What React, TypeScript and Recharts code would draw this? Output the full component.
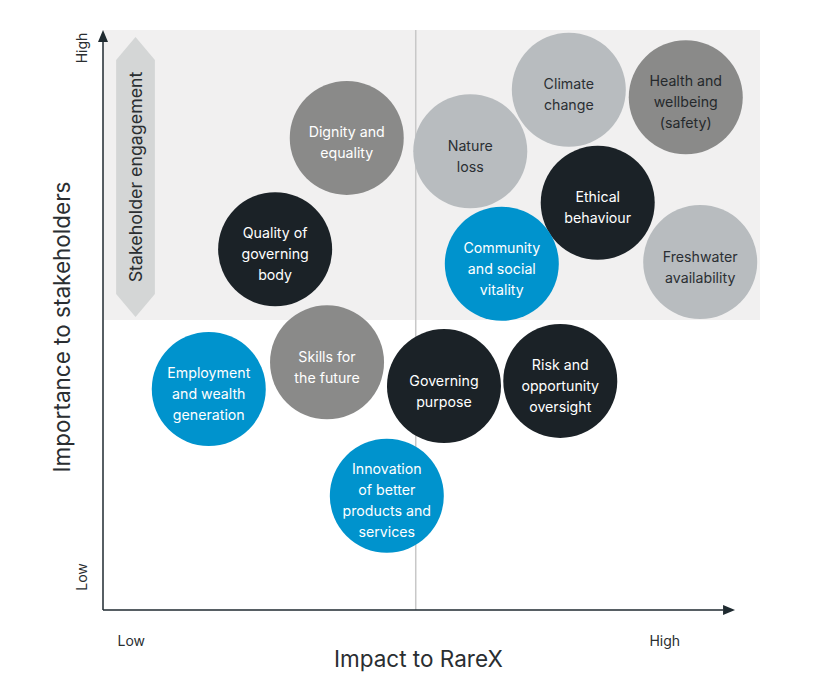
import React from 'react';
import { ScatterChart, Scatter, XAxis, YAxis, ReferenceArea, ReferenceLine } from 'recharts';

// ---------- data ----------
const topics = [
  'Climate change',
  'Health and wellbeing (safety)',
  'Dignity and equality',
  'Nature loss',
  'Ethical behaviour',
  'Quality of governing body',
  'Community and social vitality',
  'Freshwater availability',
  'Employment and wealth generation',
  'Skills for the future',
  'Governing purpose',
  'Risk and opportunity oversight',
  'Innovation of better products and services',
];
const labelLines = [
  ['Climate', 'change'],
  ['Health and', 'wellbeing', '(safety)'],
  ['Dignity and', 'equality'],
  ['Nature', 'loss'],
  ['Ethical', 'behaviour'],
  ['Quality of', 'governing', 'body'],
  ['Community', 'and social', 'vitality'],
  ['Freshwater', 'availability'],
  ['Employment', 'and wealth', 'generation'],
  ['Skills for', 'the future'],
  ['Governing', 'purpose'],
  ['Risk and', 'opportunity', 'oversight'],
  ['Innovation', 'of better', 'products and', 'services'],
];
const impact = [70.9, 88.7, 37.1, 55.9, 75.3, 26.2, 60.7, 90.9, 16.1, 34.1, 51.9, 69.6, 43.2];
const importance = [89.7, 88.4, 81.4, 79.1, 70.2, 62.2, 59.7, 60.0, 38.1, 42.7, 38.6, 39.5, 19.7];
const groups = ['light', 'greyDarkText', 'grey', 'light', 'dark', 'dark', 'blue', 'light', 'blue', 'grey', 'dark', 'dark', 'blue'];

const xTickValues = [4.3, 85.5];
const xTickLabels = ['Low', 'High'];
const yTickValues = [5.7, 96.9];
const yTickLabels = ['Low', 'High'];
const xTitle = 'Impact to RareX';
const yTitle = 'Importance to stakeholders';
const bandTitle = 'Stakeholder engagement';
const impactDivider = 47.6;
const importanceDivider = 50;
const bandX = [2.0, 7.9];
const bandY = [50.5, 98.8];
const xAxisEnd = 96.2;

const data = topics.map((t, i) => ({
  name: t,
  lines: labelLines[i],
  x: impact[i],
  y: importance[i],
  group: groups[i],
}));

// ---------- styles ----------
const FONT = 'Inter, "Open Sans", sans-serif';
const GROUP_STYLE: Record<string, { fill: string; text: string }> = {
  light: { fill: '#b8bcbf', text: '#2b2f33' },
  grey: { fill: '#8a8a89', text: '#ffffff' },
  greyDarkText: { fill: '#8a8a89', text: '#25292c' },
  dark: { fill: '#1b2227', text: '#ffffff' },
  blue: { fill: '#0093cd', text: '#ffffff' },
};
const AXIS_COLOR = '#1f2a30';
const TEXT_COLOR = '#2a2e31';
const RADIUS = 57;
const LINE_H = 21;

const Bubble = (props: any) => {
  const { cx, cy, payload } = props;
  if (cx == null || cy == null) return null;
  const st = GROUP_STYLE[payload.group];
  const lines: string[] = payload.lines;
  const start = cy + 4.5 - ((lines.length - 1) * LINE_H) / 2;
  return (
    <g>
      <circle cx={cx} cy={cy} r={RADIUS} fill={st.fill} />
      {lines.map((l, i) => (
        <text
          key={i}
          x={cx}
          y={start + i * LINE_H}
          textAnchor="middle"
          dominantBaseline="central"
          fontFamily={FONT}
          fontSize={14.2}
          fill={st.text}
        >
          {l}
        </text>
      ))}
    </g>
  );
};

const ArrowLine = (props: any) => {
  const { x1, y1, x2, y2 } = props;
  const ang = Math.atan2(y2 - y1, x2 - x1);
  const len = 12;
  const half = 5;
  const bx = x2 - len * Math.cos(ang);
  const by = y2 - len * Math.sin(ang);
  const px = -Math.sin(ang) * half;
  const py = Math.cos(ang) * half;
  return (
    <g>
      <line x1={x1} y1={y1} x2={bx} y2={by} stroke={AXIS_COLOR} strokeWidth={1.5} />
      <polygon points={`${x2},${y2} ${bx + px},${by + py} ${bx - px},${by - py}`} fill={AXIS_COLOR} />
    </g>
  );
};

const Hexagon = (props: any) => {
  const { x, y, width, height } = props;
  const tip = 23;
  const cx = x + width / 2;
  const ty = y + 140;
  const pts = [
    [cx, y],
    [x + width, y + tip],
    [x + width, y + height - tip],
    [cx, y + height],
    [x, y + height - tip],
    [x, y + tip],
  ]
    .map((p) => p.join(','))
    .join(' ');
  return (
    <g>
      <polygon points={pts} fill="#d4d6d6" />
      <text
        x={cx}
        y={ty}
        transform={`rotate(-90, ${cx}, ${ty})`}
        textAnchor="middle"
        dominantBaseline="central"
        fontFamily={FONT}
        fontSize={17.8}
        fill={TEXT_COLOR}
      >
        {bandTitle}
      </text>
    </g>
  );
};

const XTick = (props: any) => {
  const { x, y, payload } = props;
  const idx = xTickValues.indexOf(payload.value);
  return (
    <text x={x} y={y + 22} textAnchor="middle" dominantBaseline="central" fontFamily={FONT} fontSize={14} fill={TEXT_COLOR}>
      {xTickLabels[idx]}
    </text>
  );
};

const YTick = (props: any) => {
  const { y, payload } = props;
  const idx = yTickValues.indexOf(payload.value);
  const tx = 74;
  return (
    <text
      x={tx}
      y={y}
      transform={`rotate(-90, ${tx}, ${y})`}
      textAnchor="middle"
      dominantBaseline="central"
      fontFamily={FONT}
      fontSize={14}
      fill={TEXT_COLOR}
    >
      {yTickLabels[idx]}
    </text>
  );
};

const XTitle = (props: any) => {
  const vb = props.viewBox || {};
  const x = vb.x + vb.width * 0.48;
  const y = vb.y + 48;
  return (
    <text x={x} y={y} textAnchor="middle" dominantBaseline="central" fontFamily={FONT} fontSize={22.5} fill={TEXT_COLOR}>
      {xTitle}
    </text>
  );
};

const YTitle = (props: any) => {
  const vb = props.viewBox || {};
  const x = vb.x + 54;
  const y = vb.y + vb.height * 0.512;
  return (
    <text
      x={x}
      y={y}
      transform={`rotate(-90, ${x}, ${y})`}
      textAnchor="middle"
      dominantBaseline="central"
      fontFamily={FONT}
      fontSize={22.5}
      fill={TEXT_COLOR}
    >
      {yTitle}
    </text>
  );
};

export default function App() {
  return (
    <div style={{ fontFamily: FONT }}>
      <ScatterChart width={809} height={690} margin={{ top: 22, right: 57, bottom: 28, left: 0 }}>
        <XAxis
          type="number"
          dataKey="x"
          domain={[0, 100]}
          allowDataOverflow
          ticks={xTickValues}
          tick={<XTick />}
          axisLine={false}
          tickLine={false}
          height={60}
          label={<XTitle />}
        />
        <YAxis
          type="number"
          dataKey="y"
          domain={[0, 100]}
          allowDataOverflow
          ticks={yTickValues}
          tick={<YTick />}
          axisLine={false}
          tickLine={false}
          width={95}
          label={<YTitle />}
        />
        <ReferenceArea x1={0} x2={100} y1={importanceDivider} y2={100} fill="#f1f0f0" fillOpacity={1} stroke="none" ifOverflow="visible" />
        <ReferenceLine
          segment={[{ x: impactDivider, y: 0 }, { x: impactDivider, y: 100 }]}
          stroke="#c8c8c8"
          strokeWidth={1.5}
          ifOverflow="visible"
        />
        <ReferenceArea x1={bandX[0]} x2={bandX[1]} y1={bandY[0]} y2={bandY[1]} shape={<Hexagon />} ifOverflow="visible" />
        <ReferenceLine segment={[{ x: 0, y: 0 }, { x: 0, y: 100 }]} shape={<ArrowLine />} ifOverflow="visible" />
        <ReferenceLine segment={[{ x: 0, y: 0 }, { x: xAxisEnd, y: 0 }]} shape={<ArrowLine />} ifOverflow="visible" />
        <Scatter data={data} shape={<Bubble />} isAnimationActive={false} />
      </ScatterChart>
    </div>
  );
}
